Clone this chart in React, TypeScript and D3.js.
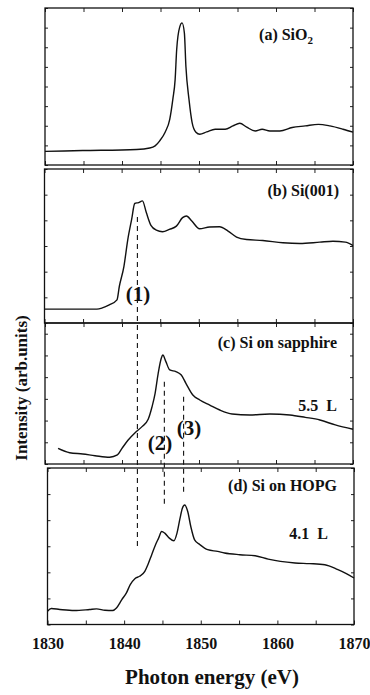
import React, { useEffect, useRef } from 'react';
import * as d3 from 'd3';

// (a) SiO2
const energyA = [1830, 1834.9, 1841.9, 1843.6, 1844.3, 1844.9, 1845.6, 1846.2, 1846.6, 1846.9, 1847.1, 1847.5, 1847.8, 1848.1, 1848.3, 1848.7, 1849.1, 1849.6, 1850.1, 1851.0, 1852.1, 1853.4, 1854.4, 1855.3, 1856.2, 1857.3, 1858.2, 1859.2, 1860.5, 1862.1, 1863.8, 1865.5, 1867.0, 1868.7, 1870];
const intensityA = [0.087, 0.092, 0.099, 0.108, 0.122, 0.154, 0.209, 0.291, 0.418, 0.544, 0.734, 0.88, 0.905, 0.842, 0.627, 0.418, 0.272, 0.209, 0.196, 0.211, 0.228, 0.228, 0.249, 0.266, 0.241, 0.217, 0.228, 0.217, 0.217, 0.239, 0.249, 0.259, 0.249, 0.228, 0.209];

// (b) Si(001)
const energyB = [1830, 1836.8, 1837.5, 1838.4, 1839.4, 1839.7, 1840.3, 1840.8, 1841.3, 1841.7, 1842.2, 1842.7, 1843.2, 1843.8, 1844.5, 1845.3, 1846.2, 1847.1, 1847.9, 1848.4, 1849.1, 1850.1, 1851.4, 1852.7, 1853.8, 1854.9, 1856.2, 1858.3, 1860.9, 1863.1, 1865.7, 1867.4, 1869.0, 1870];
const intensityB = [0.09, 0.09, 0.098, 0.118, 0.15, 0.237, 0.368, 0.542, 0.673, 0.776, 0.782, 0.793, 0.717, 0.634, 0.603, 0.593, 0.608, 0.629, 0.684, 0.695, 0.662, 0.612, 0.623, 0.625, 0.597, 0.558, 0.542, 0.536, 0.521, 0.516, 0.525, 0.531, 0.525, 0.503];

// (c) Si on sapphire, 5.5 L
const energyC = [1831.7, 1833.2, 1834.9, 1836.5, 1838.4, 1839.4, 1840.0, 1840.8, 1841.7, 1842.6, 1843.4, 1843.9, 1844.3, 1844.7, 1845.1, 1845.3, 1845.7, 1846.2, 1847.0, 1847.7, 1848.3, 1849.2, 1850.1, 1851.4, 1852.7, 1854.3, 1856.6, 1859.2, 1861.8, 1863.8, 1865.7, 1867.7, 1870];
const intensityC = [0.111, 0.08, 0.071, 0.059, 0.048, 0.064, 0.111, 0.17, 0.222, 0.265, 0.317, 0.406, 0.501, 0.643, 0.75, 0.773, 0.726, 0.667, 0.655, 0.631, 0.572, 0.489, 0.454, 0.418, 0.383, 0.355, 0.348, 0.355, 0.348, 0.331, 0.312, 0.277, 0.246];

// (d) Si on HOPG, 4.1 L
const energyD = [1830, 1830.5, 1831.6, 1833.5, 1835.5, 1836.4, 1837.5, 1838.5, 1839.0, 1839.7, 1840.3, 1840.8, 1841.4, 1842.0, 1842.7, 1843.1, 1843.6, 1844.1, 1844.5, 1844.9, 1845.3, 1845.9, 1846.5, 1846.9, 1847.3, 1847.6, 1847.9, 1848.3, 1848.7, 1849.2, 1849.9, 1850.9, 1852.2, 1853.1, 1855.1, 1857.1, 1858.8, 1860.4, 1862.3, 1864.2, 1866.2, 1867.9, 1869.0, 1870];
const intensityD = [0.085, 0.102, 0.096, 0.089, 0.096, 0.1, 0.091, 0.089, 0.106, 0.159, 0.202, 0.255, 0.293, 0.308, 0.339, 0.382, 0.446, 0.51, 0.552, 0.594, 0.584, 0.552, 0.535, 0.584, 0.68, 0.743, 0.764, 0.722, 0.626, 0.541, 0.51, 0.478, 0.467, 0.457, 0.446, 0.439, 0.418, 0.403, 0.393, 0.389, 0.382, 0.35, 0.325, 0.297];

const energies = [energyA, energyB, energyC, energyD];
const intensities = [intensityA, intensityB, intensityC, intensityD];

const xDomain = [1830, 1870];
const xLabelTicks = [1830, 1840, 1850, 1860, 1870];
const panelNames = ['(b) Si(001)', '(c) Si on sapphire', '(d) Si on HOPG'];
const doseLabels = ['', '', '5.5  L', '4.1  L'];

// dashed guide lines: energy, start [panel, intensity], end [panel, intensity]
const markerEnergies = [1842, 1845.5, 1848];
const markerNames = ['(1)', '(2)', '(3)'];
const markerStart = [[1, 0.688], [2, 0.584], [2, 0.477]];
const markerEnd = [[3, 0.499], [3, 0.752], [3, 0.841]];

const W = 370;
const H = 695;
const FONT = '"Liberation Serif", "Times New Roman", "DejaVu Serif", serif';

// panel frames in pixels
const panels = [
  { left: 45, right: 353, top: 8, bottom: 165, yStep: 1 / 8 },
  { left: 44.5, right: 353, top: 169, bottom: 323, yStep: 1 / 6 },
  { left: 45, right: 353, top: 323, bottom: 464, yStep: 0.154 },
  { left: 47.5, right: 354, top: 468, bottom: 624.5, yStep: 1 / 6 },
];

export default function App() {
  const ref = useRef<SVGSVGElement>(null);

  useEffect(() => {
    const svg = d3.select(ref.current);
    svg.selectAll('*').remove();

    const yScales: d3.ScaleLinear<number, number>[] = [];

    panels.forEach((p, i) => {
      const x = d3.scaleLinear().domain(xDomain).range([p.left, p.right]);
      const y = d3.scaleLinear().domain([0, 1]).range([p.bottom, p.top]);
      yScales.push(y);
      const g = svg.append('g');

      const pts = energies[i].map((e, k) => [e, intensities[i][k]] as [number, number]);
      const line = d3.line<[number, number]>()
        .x(d => x(d[0]))
        .y(d => y(d[1]))
        .curve(d3.curveMonotoneX);
      g.append('path')
        .datum(pts)
        .attr('d', line)
        .attr('fill', 'none')
        .attr('stroke', '#111')
        .attr('stroke-width', 1.4)
        .attr('stroke-linejoin', 'round');

      const minor = d3.range(1830, 1870.01, 5);
      const yt = d3.range(0, 1.0001, p.yStep);

      const bottom = g.append('g')
        .attr('transform', `translate(0, ${p.bottom})`)
        .call(d3.axisBottom(x).tickValues(minor).tickSize(-4).tickPadding(13)
          .tickFormat(v => (i === 3 && xLabelTicks.includes(+v) ? String(v) : '')));
      g.append('g')
        .attr('transform', `translate(0, ${p.top})`)
        .call(d3.axisTop(x).tickValues(minor).tickSize(-4).tickFormat(() => ''));
      g.append('g')
        .attr('transform', `translate(${p.left}, 0)`)
        .call(d3.axisLeft(y).tickValues(yt).tickSize(-3).tickFormat(() => ''));
      g.append('g')
        .attr('transform', `translate(${p.right}, 0)`)
        .call(d3.axisRight(y).tickValues(yt).tickSize(-3).tickFormat(() => ''));

      g.selectAll('.domain').remove();
      g.selectAll('.tick line').attr('stroke', '#222').attr('stroke-width', 1);
      bottom.attr('font-family', null);
      bottom.selectAll('text')
        .style('font-family', FONT)
        .style('font-weight', 'bold')
        .style('font-size', '16px')
        .attr('fill', '#111');

      g.append('rect')
        .attr('x', p.left)
        .attr('y', p.top)
        .attr('width', p.right - p.left)
        .attr('height', p.bottom - p.top)
        .attr('fill', 'none')
        .attr('stroke', '#111')
        .attr('stroke-width', 1.3);
    });

    const text = (s: string, x: number, y: number, size: number, anchor = 'end') =>
      svg.append('text')
        .attr('x', x)
        .attr('y', y)
        .attr('text-anchor', anchor)
        .style('font-family', FONT)
        .style('font-weight', 'bold')
        .style('font-size', `${size}px`)
        .attr('fill', '#111')
        .style('white-space', 'pre')
        .text(s);

    // panel labels
    const a = text('(a) SiO', 313, 40, 16);
    a.append('tspan').attr('dy', 4).style('font-size', '11px').text('2');
    text(panelNames[0], 339, 196, 16);
    text(panelNames[1], 337, 348, 16);
    text(panelNames[2], 337, 491, 16);
    text(doseLabels[2], 337, 411, 16);
    text(doseLabels[3], 328, 539, 16);

    // dashed guide lines
    const xm = d3.scaleLinear().domain(xDomain).range([panels[0].left, panels[0].right]);
    markerEnergies.forEach((e, k) => {
      const y1 = yScales[markerStart[k][0]](markerStart[k][1]);
      const y2 = yScales[markerEnd[k][0]](markerEnd[k][1]);
      svg.append('line')
        .attr('x1', xm(e)).attr('x2', xm(e))
        .attr('y1', y1).attr('y2', y2)
        .attr('stroke', '#111')
        .attr('stroke-width', 1.1)
        .attr('stroke-dasharray', '5,4');
    });
    text(markerNames[0], 138, 301, 21, 'middle');
    text(markerNames[1], 160, 450, 21, 'middle');
    text(markerNames[2], 189, 435, 21, 'middle');

    // axis titles
    text('Photon energy (eV)', 212, 684, 21, 'middle');
    text('Intensity (arb.units)', 0, 0, 17, 'middle')
      .attr('transform', `translate(27, 388) rotate(-90)`);
  }, []);

  return (
    <svg
      ref={ref}
      width={W}
      height={H}
      style={{ position: 'absolute', left: 0, top: 0, background: '#fff' }}
    />
  );
}
